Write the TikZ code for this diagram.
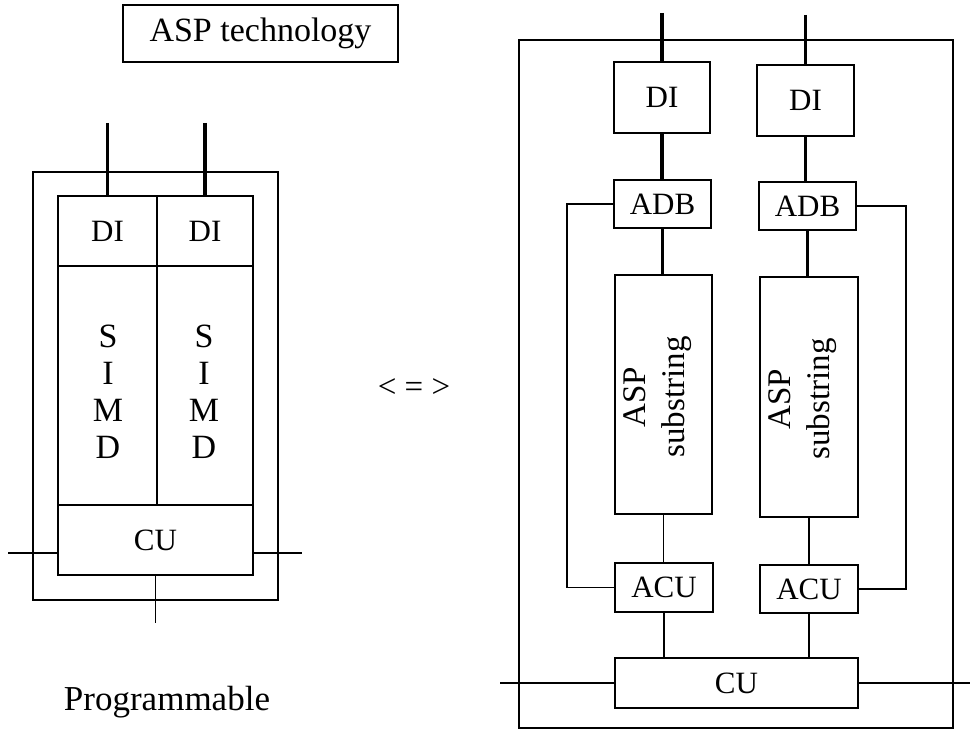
\documentclass[tikz,border=0pt]{standalone}
\usepackage{fontspec}
\setmainfont{Liberation Serif}
\begin{document}
\begin{tikzpicture}[x=1pt,y=-1pt,
  box/.style={draw, line width=1.8pt, inner sep=0pt, font=\fontsize{31}{36}\selectfont},
  frame/.style={draw, line width=1.8pt, inner sep=0pt},
  wire/.style={line width=1.8pt},
  bus/.style={line width=3.5pt},
  lbl/.style={inner sep=0pt}]
\useasboundingbox (0,0) rectangle (970,733);

% ---------- title ----------
\node[box, minimum width=275, minimum height=57, font=\fontsize{34}{40}\selectfont] (title) at (260.5,33.5) {ASP technology};

% ---------- left diagram ----------
\node[frame, minimum width=245, minimum height=428] (frameL) at (155.5,386) {};
\node[box, minimum width=99, minimum height=70] (diL) at (107.5,231) {DI};
\node[box, minimum width=96, minimum height=70] (diR) at (205,231) {DI};
\node[box, minimum width=99, minimum height=239] (simdL) at (107.5,385.5) {};
\node[box, minimum width=96, minimum height=239] (simdR) at (205,385.5) {};
\node[lbl, align=center, font=\fontsize{34}{37}\selectfont] (simdLt) at (108,392) {S\\I\\M\\D};
\node[lbl, align=center, font=\fontsize{34}{37}\selectfont] (simdRt) at (204,392) {S\\I\\M\\D};
\node[box, minimum width=195, minimum height=70] (cuL) at (155.5,540) {CU};

\coordinate (inL1) at (107.5,123);
\coordinate (inL2) at (205,123);
\draw[bus] (inL1) -- (diL.north);
\draw[bus] (inL2) -- (diR.north);
\coordinate (cuLw) at (8,553);
\coordinate (cuLe) at (302,553);
\draw[wire] (cuLw) -- (cuLw -| cuL.west);
\draw[wire] (cuLe -| cuL.east) -- (cuLe);
\coordinate (cuLs) at (155.5,623);
\draw[wire] (cuL.south) -- (cuLs);

\node[lbl, font=\fontsize{35}{40}\selectfont] (prog) at (167,702) {Programmable};

% ---------- equivalence ----------
\node[lbl, font=\fontsize{33}{38}\selectfont] (equiv) at (414,388) {< = >};

% ---------- right diagram ----------
\node[frame, minimum width=434, minimum height=688] (frameR) at (736,384) {};
\node[box, minimum width=96, minimum height=71] (diA) at (662,97.5) {DI};
\node[box, minimum width=97, minimum height=71] (diB) at (805.5,100.5) {DI};
\node[box, minimum width=97, minimum height=48] (adbA) at (662.5,204) {ADB};
\node[box, minimum width=97, minimum height=48] (adbB) at (807.5,206) {ADB};
\node[box, minimum width=97, minimum height=239] (subA) at (663.5,394.5) {};
\node[box, minimum width=98, minimum height=240] (subB) at (809,397) {};
\node[lbl, rotate=90, align=center, font=\fontsize{33}{39}\selectfont] (subAt) at (658,397) {ASP\\substring};
\node[lbl, rotate=90, align=center, font=\fontsize{33}{39}\selectfont] (subBt) at (803,399) {ASP\\substring};
\node[box, minimum width=98, minimum height=49] (acuA) at (664,587.5) {ACU};
\node[box, minimum width=98, minimum height=48] (acuB) at (809,589) {ACU};
\node[box, minimum width=243, minimum height=50] (cuR) at (736.5,683) {CU};

\coordinate (inA) at (662,13);
\coordinate (inB) at (805.5,15);
\draw[bus] (inA) -- (diA.north);
\draw[bus] (inB) -- (diB.north);
\draw[bus] (diA.south) -- (diA.south |- adbA.north);
\draw[bus] (diB.south) -- (diB.south |- adbB.north);
\draw[bus] (adbA.south) -- (adbA.south |- subA.north);
\draw[bus] (adbB.south) -- (adbB.south |- subB.north);
\draw[wire] (subA.south) -- (subA.south |- acuA.north);
\draw[wire] (subB.south) -- (subB.south |- acuB.north);
\draw[wire] (acuA.south) -- (acuA.south |- cuR.north);
\draw[wire] (acuB.south) -- (acuB.south |- cuR.north);
\draw[wire] (adbA.west) -- ++(-46,0) |- (acuA.west);
\draw[wire] (adbB.east) -- ++(49,0) |- (acuB.east);
\coordinate (cuRw) at (500,683);
\coordinate (cuRe) at (970,683);
\draw[wire] (cuRw) -- (cuR.west);
\draw[wire] (cuR.east) -- (cuRe);
\end{tikzpicture}
\end{document}
